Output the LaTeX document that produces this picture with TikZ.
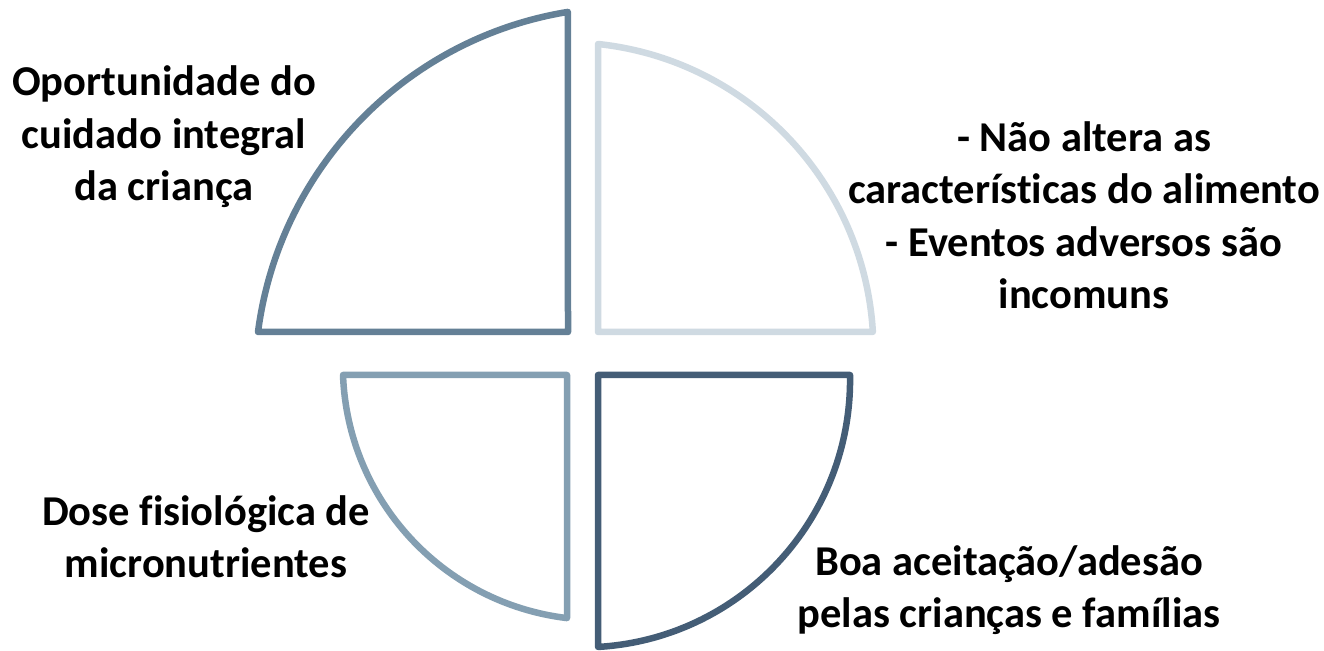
\documentclass[tikz,border=0pt]{standalone}
\usepackage{fontspec}
\setmainfont[Ligatures={NoCommon}]{Carlito}
\definecolor{tlc}{RGB}{100,128,150}
\definecolor{trc}{RGB}{207,218,226}
\definecolor{blc}{RGB}{132,159,178}
\definecolor{brc}{RGB}{68,93,118}
\begin{document}
\begin{tikzpicture}[x=1pt,y=1pt,
  wedge/.style={line width=6.5pt, line join=round, fill=white},
  lbl/.style={font=\bfseries\fontsize{42.5}{52.5}\selectfont, align=center, inner sep=0pt, anchor=base}]
\useasboundingbox (0,0) rectangle (1324,650);
% top-left wedge
\draw[wedge, draw=tlc] (568,318) -- (258,318) arc[start angle=172.6, end angle=99.26, radius=373] -- cycle;
% top-right wedge
\draw[wedge, draw=trc] (598,318) -- (598,606) arc[start angle=83.93, end angle=3.42, radius=308] -- cycle;
% bottom-left wedge
\draw[wedge, draw=blc] (567,275) -- (343,275) arc[start angle=182.16, end angle=263.16, radius=254.5] -- cycle;
% bottom-right wedge
\draw[wedge, draw=brc] (598,275) -- (850,275) arc[start angle=1.03, end angle=-86.66, radius=267.6] -- cycle;
% labels (anchor = baseline of last line)
\node[lbl] (tl) at (164,449) {Oportunidade do\\cuidado integral\\da criança};
\node[lbl] (tr) at (1084,341) {- Não altera as\\características do alimento\\- Eventos adversos são\\incomuns};
\node[lbl] (bl) at (206,72) {Dose fisiológica de\\micronutrientes};
\node[lbl] (br) at (1009,22) {Boa aceitação/adesão\\pelas crianças e famílias};
\end{tikzpicture}
\end{document}
